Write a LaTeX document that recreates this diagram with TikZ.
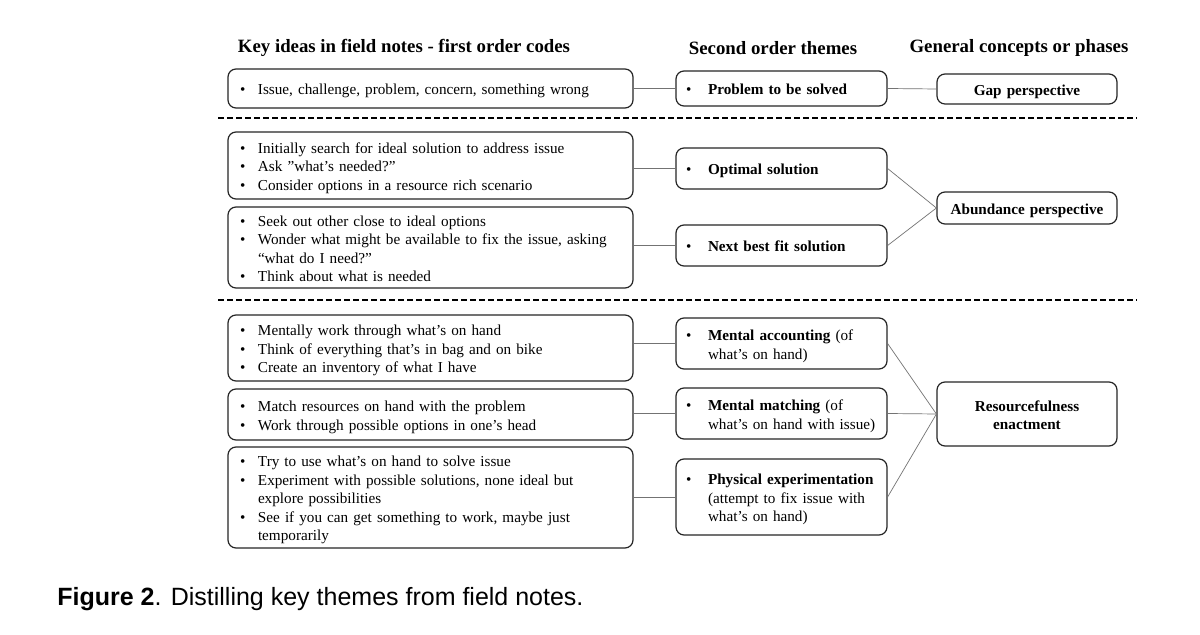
\documentclass[tikz,border=0pt]{standalone}
\usepackage{fontspec}
\setmainfont{Liberation Serif}
\newfontfamily\capfont{Liberation Sans}
\newcommand{\shiftdn}[1]{\raisebox{-1.3pt}[\height][\depth]{#1}}
\newcommand{\bitems}[2][9pt]{\shiftdn{\begin{tabular}{@{}p{#1}@{}l@{}}#2\end{tabular}}}
\newcommand{\ctext}[1]{\shiftdn{\begin{tabular}{@{}c@{}}#1\end{tabular}}}
\begin{document}
\begin{tikzpicture}[x=0.5pt,y=-0.5pt,
  box/.style={draw=black!85, line width=0.6pt, rounded corners=4pt, inner ysep=0pt,
    font=\fontsize{7.6}{9.25}\selectfont},
  lbox/.style={box, inner xsep=6pt, text width=190.5pt, align=left},
  mbox/.style={box, inner xsep=5pt, text width=95.5pt, align=left},
  rbox/.style={box, inner xsep=4pt, text width=82pt, align=center, font=\fontsize{7.6}{9.25}\selectfont\bfseries},
  head/.style={font=\fontsize{9.4}{11}\selectfont\bfseries, inner sep=0pt},
  link/.style={draw=black!55, line width=0.35pt},
  sep/.style={draw=black, line width=1pt, dash pattern=on 3pt off 1.5pt}]
\useasboundingbox[fill=white] (0,0) rectangle (1200,635);

% headers
\node[head] (h1) at (404,48) {Key ideas in field notes - first order codes};
\node[head] (h2) at (773,48) {Second order themes};
\node[head] (h3) at (1019,48) {General concepts or phases};

% left column
\node[lbox, minimum height=19.5pt] (l1) at (430.5,88.5) {\bitems{\textbullet & Issue, challenge, problem, concern, something wrong}};
\node[lbox, minimum height=33.5pt] (l2) at (430.5,165.5) {\bitems{\textbullet & Initially search for ideal solution to address issue\\
\textbullet & Ask ”what’s needed?”\\
\textbullet & Consider options in a resource rich scenario}};
\node[lbox, minimum height=40.5pt] (l3) at (430.5,247.5) {\bitems{\textbullet & Seek out other close to ideal options\\
\textbullet & Wonder what might be available to fix the issue, asking\\
 & “what do I need?”\\
\textbullet & Think about what is needed}};
\node[lbox, minimum height=33pt] (l4) at (430.5,348) {\bitems{\textbullet & Mentally work through what’s on hand\\
\textbullet & Think of everything that’s in bag and on bike\\
\textbullet & Create an inventory of what I have}};
\node[lbox, minimum height=25.5pt] (l5) at (430.5,414.5) {\bitems{\textbullet & Match resources on hand with the problem\\
\textbullet & Work through possible options in one’s head}};
\node[lbox, minimum height=50.5pt] (l6) at (430.5,497.5) {\bitems{\textbullet & Try to use what’s on hand to solve issue\\
\textbullet & Experiment with possible solutions, none ideal but\\
 & explore possibilities\\
\textbullet & See if you can get something to work, maybe just\\
 & temporarily}};

% middle column
\node[mbox, minimum height=17.5pt] (m1) at (781.5,88.5) {\bitems[11pt]{\textbullet & \textbf{Problem to be solved}}};
\node[mbox, minimum height=20.5pt] (m2) at (781.5,168.5) {\bitems[11pt]{\textbullet & \textbf{Optimal solution}}};
\node[mbox, minimum height=20.5pt] (m3) at (781.5,245.5) {\bitems[11pt]{\textbullet & \textbf{Next best fit solution}}};
\node[mbox, minimum height=25.5pt] (m4) at (781.5,343.5) {\bitems[11pt]{\textbullet & \textbf{Mental accounting} (of\\
 & what’s on hand)}};
\node[mbox, minimum height=25.5pt] (m5) at (781.5,413.5) {\bitems[11pt]{\textbullet & \textbf{Mental matching} (of\\
 & what’s on hand with issue)}};
\node[mbox, minimum height=38pt] (m6) at (781.5,497) {\bitems[11pt]{\textbullet & \textbf{Physical experimentation}\\
 & (attempt to fix issue with\\
 & what’s on hand)}};

% right column
\node[rbox, minimum height=15pt] (r1) at (1027,89) {\ctext{Gap perspective}};
\node[rbox, minimum height=16pt] (r2) at (1027,208) {\ctext{Abundance perspective}};
\node[rbox, minimum height=32pt] (r3) at (1027,414) {\ctext{Resourcefulness\\enactment}};

% dashed separators
\coordinate (d1a) at (218,118); \coordinate (d1b) at (1137,118);
\coordinate (d2a) at (218,300); \coordinate (d2b) at (1137,300);
\draw[sep] (d1a) -- (d1b);
\draw[sep] (d2a) -- (d2b);

% connectors left -> middle
\draw[link] (l1.east) -- (m1.west);
\draw[link] (m2.west -| l2.east) -- (m2.west);
\draw[link] (m3.west -| l3.east) -- (m3.west);
\draw[link] (m4.west -| l4.east) -- (m4.west);
\draw[link] (m5.west -| l5.east) -- (m5.west);
\draw[link] (m6.west -| l6.east) -- (m6.west);

% connectors middle -> right
\draw[link] (m1.east) -- (r1.west);
\draw[link] (m2.east) -- (r2.west);
\draw[link] (m3.east) -- (r2.west);
\draw[link] (m4.east) -- (r3.west);
\draw[link] (m5.east) -- (r3.west);
\draw[link] (m6.east) -- (r3.west);

% caption
\node[anchor=base west, inner sep=0pt, font=\capfont\fontsize{12.5}{15}\selectfont] (cap) at (57,606) {\textbf{Figure 2}. Distilling key themes from field notes.};
\end{tikzpicture}
\end{document}
